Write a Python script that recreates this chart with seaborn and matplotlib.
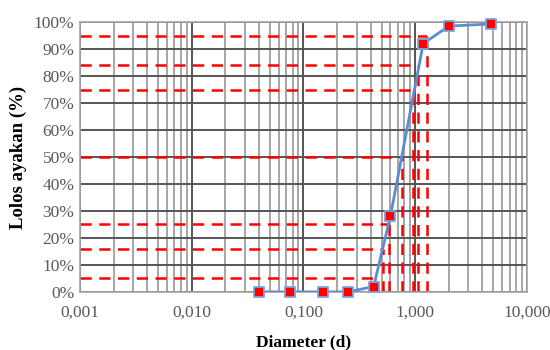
import numpy as np
import pandas as pd
import matplotlib
matplotlib.use("Agg")
import matplotlib.pyplot as plt
import seaborn as sns
from matplotlib.ticker import FixedLocator, FixedFormatter, LogLocator, NullFormatter

# Sieve data
diameters = [0.04, 0.075, 0.15, 0.25, 0.425, 0.6, 1.18, 2.0, 4.75]
passing = [0, 0, 0, 0, 2, 28, 92, 98.5, 99.3]

# Characteristic diameters (D5, D16, D25, D50, D75, D84, D95)
d_levels = [5, 16, 25, 50, 75, 84, 95]
d_values = [0.436, 0.518, 0.582, 0.757, 0.955, 1.059, 1.28]

x_ticks = [0.001, 0.01, 0.1, 1, 10]
x_labels = ["0,001", "0,010", "0,100", "1,000", "10,000"]
y_ticks = list(range(0, 101, 10))
y_labels = [f"{v}%" for v in y_ticks]

sns.set_style("white")
plt.rcParams["font.family"] = ["Liberation Serif", "DejaVu Serif"]

fig = plt.figure(figsize=(5.5, 3.5), dpi=100)
ax = fig.add_axes([0.1455, 0.166, 0.958 - 0.1455, 0.937 - 0.166])

ax.set_xscale("log")
ax.set_xlim(0.001, 10)
ax.set_ylim(0, 100)

# grid
ax.xaxis.set_major_locator(FixedLocator(x_ticks))
ax.xaxis.set_major_formatter(FixedFormatter(x_labels))
ax.xaxis.set_minor_locator(LogLocator(base=10, subs=np.arange(2, 10)))
ax.xaxis.set_minor_formatter(NullFormatter())
ax.yaxis.set_major_locator(FixedLocator(y_ticks))
ax.yaxis.set_major_formatter(FixedFormatter(y_labels))
ax.grid(True, which="major", axis="x", color="#555555", lw=1.4, zorder=0)
ax.grid(True, which="minor", axis="x", color="#a6a6a6", lw=1.4, zorder=0)
ax.grid(True, which="major", axis="y", color="#555555", lw=1.4, zorder=0)
ax.set_axisbelow(True)

# dashed reference lines
for lvl, d in zip(d_levels, d_values):
    ax.plot([0.001, d], [lvl, lvl], color="#ff0000", lw=1.8, ls=(0, (4.5, 3)), zorder=2)
    ax.plot([d, d], [0, lvl], color="#ff0000", lw=1.8, ls=(0, (4.5, 3)), zorder=2)

df = pd.DataFrame({"d": diameters, "p": passing})
sns.lineplot(data=df, x="d", y="p", ax=ax, color="#5b8cd2", lw=2, zorder=3)
sns.scatterplot(data=df, x="d", y="p", ax=ax, marker="s", s=58, color="#ff0000",
                edgecolor="#7aa4dc", linewidth=1.3, zorder=4, clip_on=False)

for s in ax.spines.values():
    s.set_color("#a6a6a6")
    s.set_linewidth(1.2)

ax.tick_params(axis="both", which="both", length=0, labelsize=12.5, labelcolor="#595959")
ax.tick_params(axis="x", pad=9)
ax.tick_params(axis="y", pad=4)
ax.set_xlabel("Diameter (d)", fontsize=12.5, fontweight="bold", color="#000000", labelpad=10)
ax.set_ylabel("Lolos ayakan (%)", fontsize=13.5, fontweight="bold", color="#000000", labelpad=5)

fig.savefig("out.png", dpi=100, facecolor="white")
